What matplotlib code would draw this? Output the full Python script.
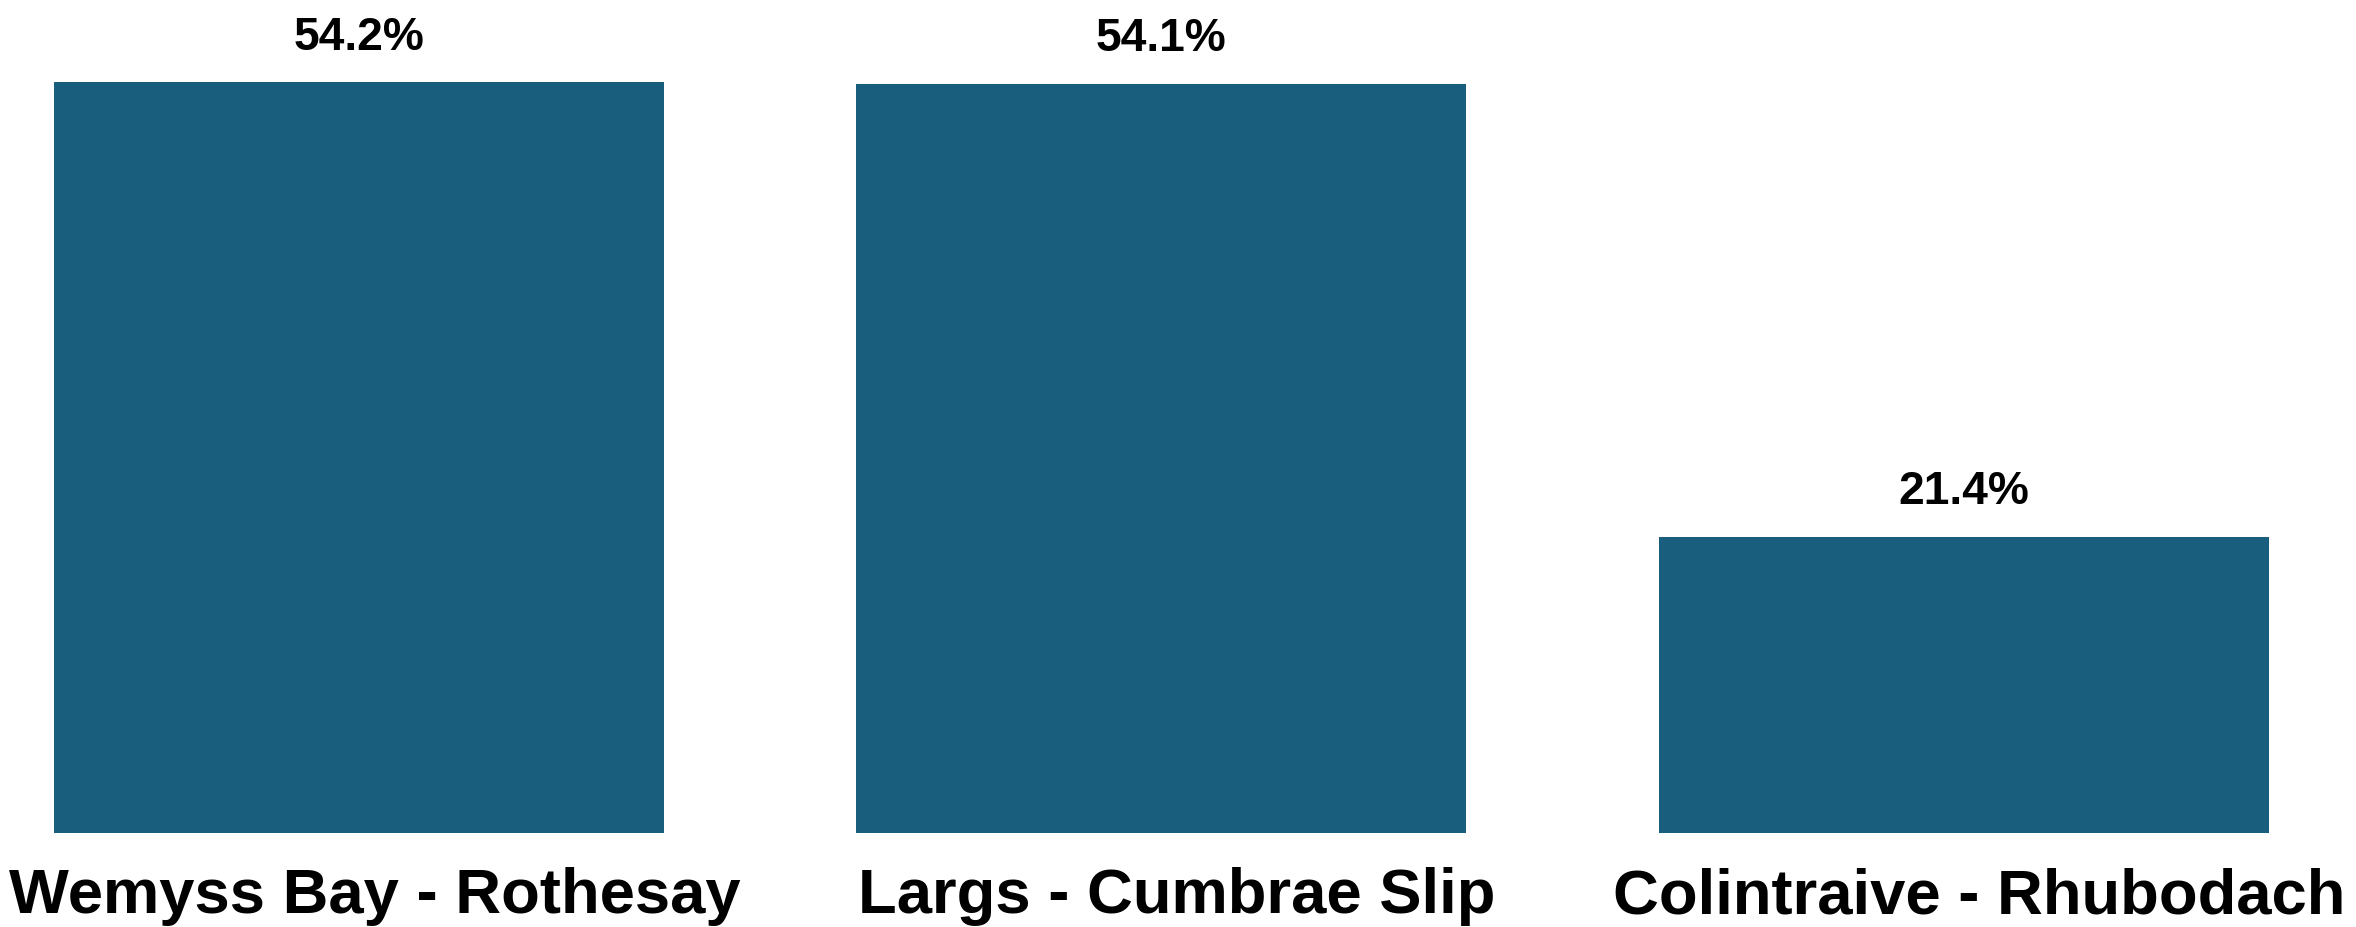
import matplotlib
matplotlib.use("Agg")
import matplotlib.pyplot as plt
from matplotlib.transforms import ScaledTranslation

routes = ["Wemyss Bay - Rothesay", "Largs - Cumbrae Slip", "Colintraive - Rhubodach"]
shares = [54.2, 54.1, 21.4]
bar_color = "#195E7C"

plt.rcParams["font.family"] = ["Liberation Sans", "DejaVu Sans"]

fig = plt.figure(figsize=(11.78, 4.64), dpi=200)
ax = fig.add_axes([0, 94 / 928, 1, 834 / 928])

x = range(len(routes))
ax.bar(x, shares, width=0.76, color=bar_color)

# value labels above each bar
for i, v in zip(x, shares):
    ax.annotate(f"{v:.1f}%", xy=(i, v), xytext=(0, 12), textcoords="offset points",
                ha="center", va="baseline", fontsize=16.6, fontweight="bold")

ax.set_xlim(-0.447, 2.489)
ax.set_ylim(0, 60.2)
ax.set_xticks(list(x))
ax.set_xticklabels(routes, fontsize=22.8, fontweight="bold")
ax.tick_params(axis="x", length=0, pad=12)
# category labels sit a little right of the bar centres
shift = ScaledTranslation(16 / 200, 0, fig.dpi_scale_trans)
for lbl in ax.get_xticklabels():
    lbl.set_transform(lbl.get_transform() + shift)
ax.set_yticks([])
for s in ax.spines.values():
    s.set_visible(False)

fig.savefig("out.png", dpi=200)
